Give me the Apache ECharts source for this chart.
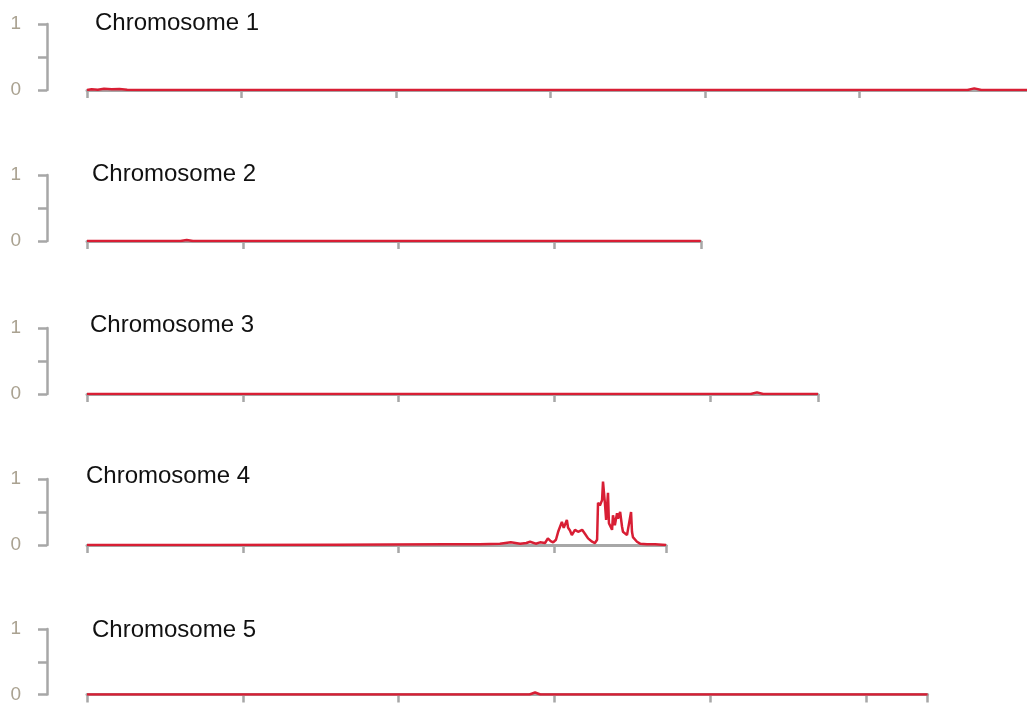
<!DOCTYPE html>
<html>
<head>
<meta charset="utf-8">
<script src="https://cdn.jsdelivr.net/npm/echarts@6/dist/echarts.min.js"></script>
<style>
  html, body { margin: 0; padding: 0; background: #ffffff; }
  #chart { width: 1027px; height: 704px; }
</style>
</head>
<body>
<div id="chart"></div>
<script>
// Chromosome names and lengths (Mb)
const chromNames = ['Chromosome 1', 'Chromosome 2', 'Chromosome 3', 'Chromosome 4', 'Chromosome 5'];
const chromLengths = [30.427, 19.698, 23.460, 18.585, 26.976];

// Tick positions (Mb) along each chromosome
const xTicks1 = [0, 5, 10, 15, 20, 25];
const xTicks2 = [0, 5, 10, 15, 19.698];
const xTicks3 = [0, 5, 10, 15, 20, 23.460];
const xTicks4 = [0, 5, 10, 15, 18.585];
const xTicks5 = [0, 5, 10, 15, 20, 25, 26.976];

// Signal along each chromosome: position (Mb) and value
const chr1Pos = [0, 0.15, 0.35, 0.55, 0.8, 1.05, 1.3, 1.6, 5, 10, 15, 20, 25, 28.5, 28.72, 28.95, 30.427];
const chr1Val = [0, 0.01, 0.005, 0.02, 0.01, 0.015, 0.005, 0, 0, 0, 0, 0, 0, 0, 0.025, 0, 0];

const chr2Pos = [0, 3.0, 3.2, 3.4, 10, 19.698];
const chr2Val = [0, 0, 0.015, 0, 0, 0];

const chr3Pos = [0, 10, 21.3, 21.5, 21.7, 23.460];
const chr3Val = [0, 0, 0, 0.025, 0, 0];

const chr4Pos = [0, 4, 8, 11.5, 12.6, 13.25, 13.6, 13.9, 14.1, 14.22, 14.4, 14.54, 14.7, 14.79, 14.88,
  14.96, 15.05, 15.12, 15.24, 15.30, 15.34, 15.40, 15.44, 15.50, 15.56, 15.66, 15.76, 15.89, 15.98, 16.08,
  16.21, 16.30, 16.37, 16.40, 16.46, 16.53, 16.56, 16.62, 16.66, 16.72, 16.75, 16.85, 16.88, 16.94, 17.01,
  17.04, 17.11, 17.17, 17.20, 17.33, 17.46, 17.49, 17.52, 17.65, 17.75, 17.97, 18.23, 18.585];
const chr4Val = [0, 0, 0.005, 0.01, 0.01, 0.02, 0.04, 0.02, 0.03, 0.05, 0.02, 0.04, 0.03, 0.1, 0.06,
  0.04, 0.08, 0.2, 0.35, 0.26, 0.28, 0.38, 0.26, 0.22, 0.15, 0.23, 0.2, 0.23, 0.17, 0.1,
  0.05, 0.03, 0.08, 0.64, 0.6, 0.68, 0.96, 0.64, 0.38, 0.79, 0.33, 0.23, 0.45, 0.3, 0.48,
  0.4, 0.5, 0.28, 0.2, 0.15, 0.5, 0.2, 0.12, 0.05, 0.02, 0.01, 0.01, 0];

const chr5Pos = [0, 10, 14.2, 14.38, 14.55, 20, 26.976];
const chr5Val = [0, 0, 0, 0.03, 0, 0, 0];

const positions = [chr1Pos, chr2Pos, chr3Pos, chr4Pos, chr5Pos];
const values = [chr1Val, chr2Val, chr3Val, chr4Val, chr5Val];
const xTicks = [xTicks1, xTicks2, xTicks3, xTicks4, xTicks5];

// Y-axis tick values
const yTicks = [0, 0.5, 1];

// Panel layout
const plotLeft = 87;
const pxPerMb = 31.16;
const panelHeight = 66;
const zeroLines = [90, 241, 394, 545, 695];
const titleCenters = [21, 172, 323, 474, 628];
const titleLefts = [95, 92, 90, 86, 92];

const RED = '#d81e34';
const GREY = '#a7a7a7';

const grids = [], xAxes = [], yAxes = [], series = [], titles = [];
chromNames.forEach((name, i) => {
  grids.push({
    left: plotLeft,
    top: zeroLines[i] - panelHeight,
    width: chromLengths[i] * pxPerMb,
    height: panelHeight
  });
  xAxes.push({
    gridIndex: i,
    type: 'value',
    min: 0,
    max: chromLengths[i],
    interval: 5,
    axisLine: { show: true, onZero: false, lineStyle: { color: GREY, width: 3 } },
    axisTick: { show: true, length: 8, customValues: xTicks[i], lineStyle: { color: GREY, width: 2.5 } },
    axisLabel: { show: false },
    splitLine: { show: false }
  });
  yAxes.push({
    gridIndex: i,
    type: 'value',
    min: yTicks[0],
    max: yTicks[yTicks.length - 1],
    interval: 0.5,
    offset: 40,
    axisLine: { show: true, onZero: false, lineStyle: { color: GREY, width: 2.5 } },
    axisTick: { show: true, length: 9, lineStyle: { color: GREY, width: 2.5 } },
    axisLabel: {
      margin: 26,
      color: '#aaa291',
      fontSize: 19,
      fontFamily: 'Liberation Sans',
      formatter: v => (v === 0 || v === 1) ? String(v) : ''
    },
    splitLine: { show: false }
  });
  series.push({
    type: 'line',
    xAxisIndex: i,
    yAxisIndex: i,
    showSymbol: false,
    symbol: 'none',
    animation: false,
    lineStyle: { color: RED, width: 2.5 },
    data: positions[i].map((p, k) => [p, values[i][k]])
  });
  titles.push({
    text: name,
    left: titleLefts[i],
    top: titleCenters[i] - 10,
    padding: 0,
    textStyle: {
      fontFamily: 'Liberation Sans',
      fontSize: 24,
      fontWeight: 'normal',
      color: '#111111'
    }
  });
});

const chart = echarts.init(document.getElementById('chart'), null, { renderer: 'canvas' });
chart.setOption({
  backgroundColor: '#ffffff',
  animation: false,
  title: titles,
  grid: grids,
  xAxis: xAxes,
  yAxis: yAxes,
  series: series
});
</script>
</body>
</html>
